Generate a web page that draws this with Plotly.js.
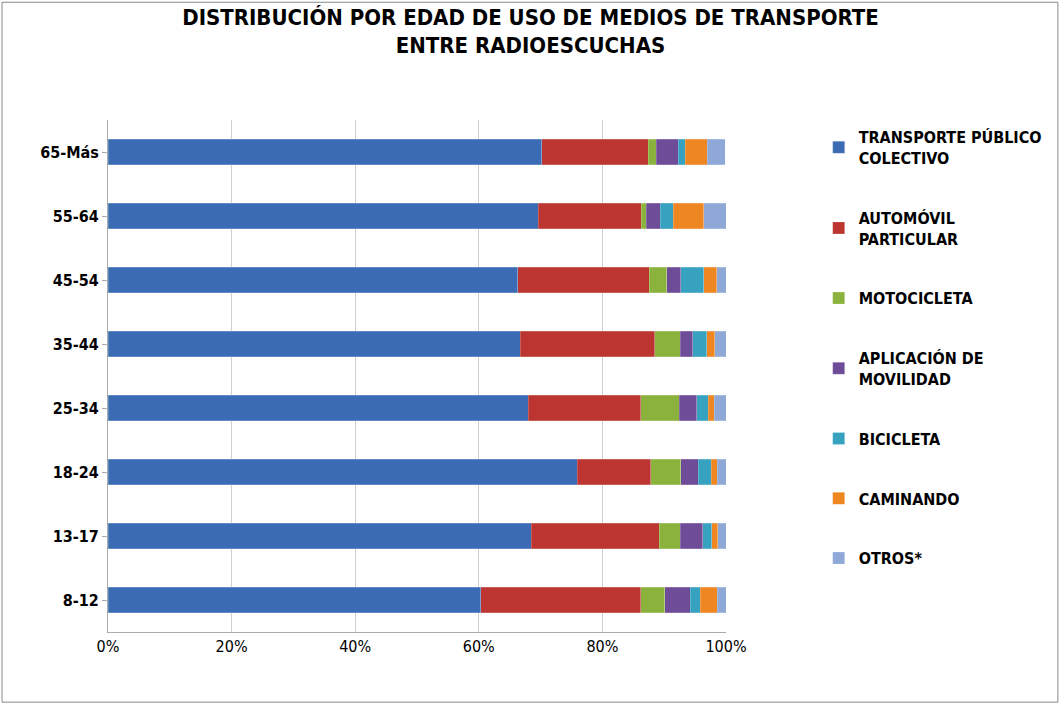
<!DOCTYPE html>
<html><head><meta charset="utf-8">
<script src="https://cdn.plot.ly/plotly-3.0.1.min.js"></script>
<style>body{margin:0}#chart{width:1061px;height:704px}</style>
</head><body><div id="chart"></div>
<script>
var ages = ['8-12', '13-17', '18-24', '25-34', '35-44', '45-54', '55-64', '65-Más'];
var seriesNames = ['TRANSPORTE PÚBLICO<br>COLECTIVO', 'AUTOMÓVIL<br>PARTICULAR', 'MOTOCICLETA',
  'APLICACIÓN DE<br>MOVILIDAD', 'BICICLETA', 'CAMINANDO', 'OTROS*'];
var colors = ['#3A6BB3', '#BC3530', '#8BB23C', '#6E4C98', '#36A2BF', '#EE8622', '#8EA8D8'];
var publico   = [60.3, 68.5, 75.9, 68.0, 66.7, 66.3, 69.6, 70.2];
var automovil = [25.9, 20.7, 11.9, 18.2, 21.8, 21.3, 16.7, 17.2];
var moto      = [3.9, 3.4, 4.9, 6.2, 4.1, 2.8, 0.8, 1.3];
var aplicacion= [4.1, 3.6, 2.8, 2.9, 2.0, 2.3, 2.3, 3.6];
var bicicleta = [1.6, 1.5, 2.1, 1.8, 2.3, 3.7, 2.1, 1.1];
var caminando = [2.8, 1.0, 1.0, 1.0, 1.3, 2.1, 4.9, 3.6];
var otros     = [1.4, 1.4, 1.4, 1.9, 1.8, 1.5, 3.6, 2.9];
var values = [publico, automovil, moto, aplicacion, bicicleta, caminando, otros];

var data = values.map(function (v, i) {
  return {
    type: 'bar', orientation: 'h', y: ages, x: v, name: seriesNames[i],
    legendgroup: 'g' + i,
    marker: {color: colors[i], line: {color: 'rgba(255,255,255,0.4)', width: 0.5}}
  };
});

var layout = {
  width: 1061, height: 704,
  barmode: 'stack', bargap: 0.6,
  font: {family: 'DejaVu Sans Condensed, Liberation Sans, sans-serif', color: '#000'},
  title: {text: '<b>DISTRIBUCIÓN POR EDAD DE USO DE MEDIOS DE TRANSPORTE<br>ENTRE RADIOESCUCHAS</b>',
    x: 0.5, xanchor: 'center', y: 0.965, yanchor: 'top', font: {size: 22}},
  margin: {l: 108, r: 335, t: 120, b: 72},
  xaxis: {range: [0, 100], dtick: 20, ticksuffix: '%', showgrid: true, gridcolor: '#d0d0d0',
    zeroline: false, showline: true, linecolor: '#aaa', tickfont: {size: 16}, ticks: ''},
  yaxis: {tickfont: {size: 16, weight: 'bold'}, showline: true, linecolor: '#aaa', ticks: 'outside',
    ticklen: 5, tickcolor: '#aaa'},
  legend: {x: 1.15, xanchor: 'left', y: 1.0, yanchor: 'top', traceorder: 'grouped',
    tracegroupgap: 36, font: {size: 16, weight: 'bold'}},
  showlegend: true,
  plot_bgcolor: '#fff', paper_bgcolor: '#fff',
  shapes: [{type: 'rect', xref: 'paper', yref: 'paper', x0: -0.1715, x1: 1.537, y0: -0.137, y1: 1.23,
    line: {color: '#888', width: 1}}]
};

Plotly.newPlot('chart', data, layout, {displayModeBar: false});
</script></body></html>
